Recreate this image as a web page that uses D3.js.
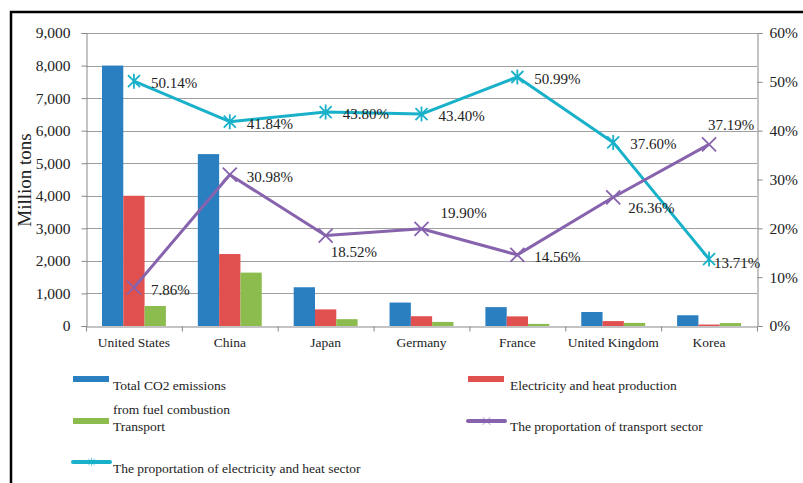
<!DOCTYPE html>
<html><head><meta charset="utf-8">
<script src="https://cdn.jsdelivr.net/npm/d3@7"></script>
<style>body{margin:0;background:#fff}svg{display:block}text{font-family:"Liberation Serif","Times New Roman",serif;fill:#222}</style>
</head><body><svg id="c" width="803" height="483"></svg>
<script>
const countries = ["United States","China","Japan","Germany","France","United Kingdom","Korea"];
const totalCO2 = [8000,5280,1190,720,580,430,330];
const electricity = [4000,2210,510,300,296,150,45];
const transport = [615,1640,210,125,65,95,90];
const shareTransport = [7.86,30.98,18.52,19.90,14.56,26.36,37.19];
const shareElectricity = [50.14,41.84,43.80,43.40,50.99,37.60,13.71];
const leftTicks = [0,1000,2000,3000,4000,5000,6000,7000,8000,9000];
const rightTicks = [0,10,20,30,40,50,60];
const elecLabelPlace = ["right","right","right","right","right","right","over"];
const transLabelPlace = ["right","right","below","aboveRight","right","belowRight","above"];

const colBlue="#2a7fc1", colRed="#e0504f", colGreen="#8cbb4e", colCyan="#19b1c9", colPurple="#8763ad";
const svg=d3.select("#c");
const L=86,R=757,T=33,B=326;
const x=d3.scaleBand().domain(countries).range([L,R]);
const xs=d3.scaleBand().domain([0,1,2]).range([0,x.bandwidth()]).paddingOuter(0.75).paddingInner(0);
const yL=d3.scaleLinear().domain([0,9000]).range([B,T]);
const yR=d3.scaleLinear().domain([0,60]).range([B,T]);

// frame
svg.append("rect").attr("x",11).attr("y",12).attr("width",820).attr("height",500).attr("fill","none").attr("stroke","#000").attr("stroke-width",2.5);

// gridlines
svg.append("g").selectAll("line").data(leftTicks.slice(1)).join("line")
 .attr("x1",L).attr("x2",R).attr("y1",d=>Math.round(yL(d))+0.5).attr("y2",d=>Math.round(yL(d))+0.5)
 .attr("stroke","#a0a0a0").attr("stroke-width",1);

// bars
const series=[totalCO2,electricity,transport], cols=[colBlue,colRed,colGreen];
series.forEach((s,k)=>{
 svg.append("g").selectAll("rect").data(s).join("rect")
  .attr("x",(d,i)=>x(countries[i])+xs(k)).attr("width",xs.bandwidth())
  .attr("y",d=>yL(d)).attr("height",d=>B-yL(d)).attr("fill",cols[k]);
});

// axes
const gl=svg.append("g").attr("transform",`translate(${L+0.5},0)`)
 .call(d3.axisLeft(yL).tickValues(leftTicks).tickFormat(d3.format(",")).tickSize(5).tickPadding(11));
const gr=svg.append("g").attr("transform",`translate(${R+0.5},0)`)
 .call(d3.axisRight(yR).tickValues(rightTicks).tickFormat(d=>d+"%").tickSize(5).tickPadding(7));
const gb=svg.append("g").attr("transform",`translate(0,${B+0.5})`)
 .call(d3.axisBottom(x).tickSize(0).tickPadding(11));
gb.selectAll("line.bt").data(d3.range(countries.length+1)).join("line").attr("class","bt")
 .attr("x1",i=>L+i*x.step()+0.5).attr("x2",i=>L+i*x.step()+0.5).attr("y1",0).attr("y2",5).attr("stroke","#888");
[gl,gr,gb].forEach(g=>{g.selectAll(".domain").attr("stroke","#888");g.selectAll(".tick line").attr("stroke","#888");
 g.selectAll("text").style("font-family",'"Liberation Serif",serif').style("font-size","15.5px").attr("fill","#222");});
gb.selectAll("text").style("font-size","13.5px");

svg.append("text").attr("transform","translate(31,180) rotate(-90)").attr("text-anchor","middle")
 .style("font-size","19px").text("Million tons");

// lines
const cx=i=>x(countries[i])+x.bandwidth()/2;
function drawLine(vals,color,marker,places){
 const line=d3.line().x((d,i)=>cx(i)).y(d=>yR(d));
 svg.append("path").datum(vals).attr("d",line).attr("fill","none").attr("stroke",color).attr("stroke-width",3).attr("stroke-linejoin","round");
 svg.append("g").selectAll("path").data(vals).join("path")
  .attr("transform",(d,i)=>`translate(${cx(i)},${yR(d)})`)
  .attr("d",marker).attr("stroke",color).attr("stroke-width",1.8).attr("fill","none");
 svg.append("g").selectAll("text").data(vals).join("text")
  .attr("x",(d,i)=>{const p=places[i];return cx(i)+(p==="right"?17:p==="over"?5:p==="below"?5:p==="aboveRight"?19:p==="belowRight"?15:-1);})
  .attr("y",(d,i)=>{const p=places[i];return yR(d)+(p==="right"?7:p==="over"?9:p==="below"?21:p==="aboveRight"?-11:p==="belowRight"?16:-14);})
  .style("font-size","15px").text(d=>d.toFixed(2)+"%");
}
const star="M-6,-6L6,6M-6,6L6,-6M0,-7.5L0,7.5";
const cross="M-7,-7L7,7M-7,7L7,-7";
drawLine(shareElectricity,colCyan,star,elecLabelPlace);
drawLine(shareTransport,colPurple,cross,transLabelPlace);

// legend
const lg=svg.append("g").style("font-size","13.5px");
function swatch(x0,y0,c){lg.append("rect").attr("x",x0).attr("y",y0).attr("width",36).attr("height",6).attr("fill",c);}
function lineKey(x0,y0,c,m){lg.append("line").attr("x1",x0).attr("x2",x0+37).attr("y1",y0).attr("y2",y0).attr("stroke",c).attr("stroke-width",4).attr("stroke-linecap","round");
 lg.append("path").attr("transform",`translate(${x0+18.5},${y0}) scale(0.55)`).attr("d",m).attr("stroke",c).attr("stroke-width",1.5).attr("opacity",0.8);}
function label(x0,y0,t){lg.append("text").attr("x",x0).attr("y",y0).text(t);}
swatch(73,376,colBlue); label(113,390,"Total CO2 emissions"); label(113,414,"from fuel combustion");
swatch(73,418,colGreen); label(113,431,"Transport");
lineKey(73,462,colCyan,star); label(113,473,"The proportation  of electricity and heat sector");
swatch(468,376,colRed); label(510,390,"Electricity and heat production");
lineKey(468,421,colPurple,cross); label(510,431,"The proportation  of transport sector");
</script></body></html>
